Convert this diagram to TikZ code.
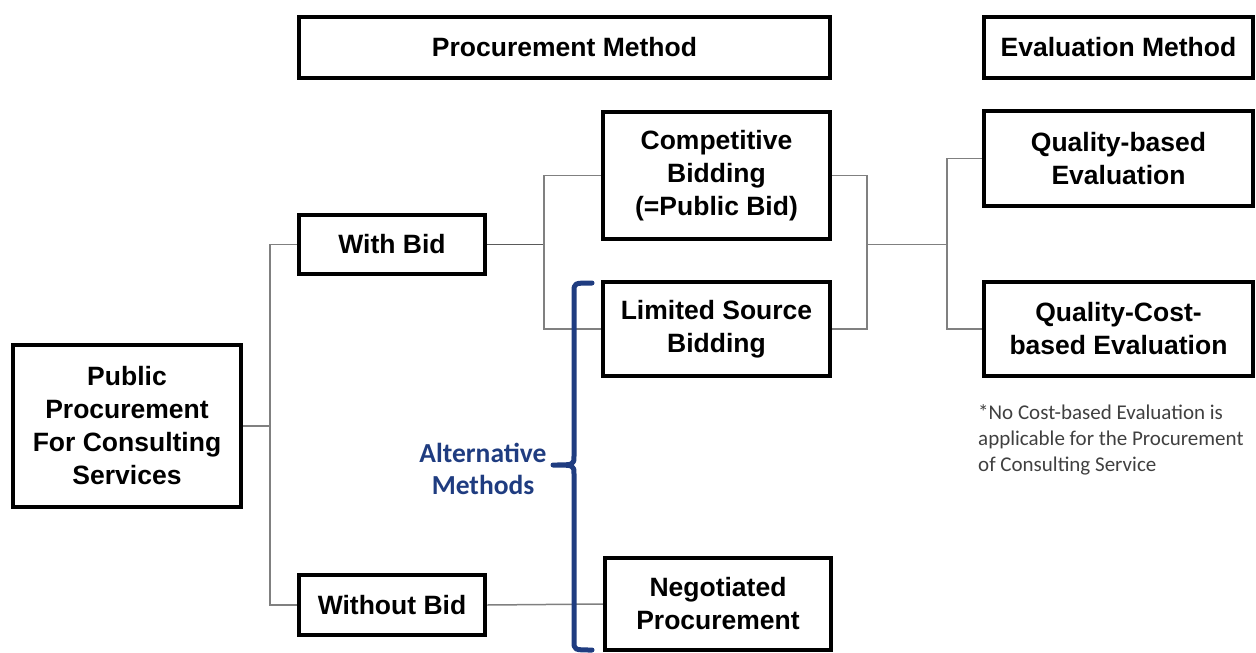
\documentclass[tikz,border=0pt]{standalone}
\usepackage{fontspec}
\setmainfont{Liberation Sans}
\newfontfamily\calfont{Carlito}
\definecolor{braceblue}{HTML}{1F3C80}
\definecolor{conngray}{HTML}{808080}
\definecolor{notegray}{HTML}{404040}
\begin{document}
\begin{tikzpicture}[x=1pt,y=-1pt,
  mybox/.style={draw=black,line width=4.5pt,fill=white,inner sep=0pt,align=center,
    font=\fontsize{26.5}{33}\selectfont\bfseries},
  conn/.style={draw=conngray,line width=1.5pt},
  bracestyle/.style={draw=braceblue,line width=5pt,line cap=round,line join=round}]
\useasboundingbox (0,0) rectangle (1256,653);
% boxes
\node[mybox,minimum width=531pt,minimum height=61pt] (hdrP) at (564.5,47.5) {Procurement Method};
\node[mybox,minimum width=269pt,minimum height=61pt] (hdrE) at (1118.5,47.5) {Evaluation Method};
\node[mybox,minimum width=228pt,minimum height=162pt] (pub) at (127,426) {Public\\Procurement\\For Consulting\\Services};
\node[mybox,minimum width=186pt,minimum height=59pt] (with) at (392,244.5) {With Bid};
\node[mybox,minimum width=186pt,minimum height=60pt] (without) at (392,605) {Without Bid};
\node[mybox,minimum width=227pt,minimum height=127pt] (comp) at (716.5,175.5) {Competitive\\Bidding\\(=Public Bid)};
\node[mybox,minimum width=227pt,minimum height=94pt] (lim) at (716.5,329) {Limited Source\\Bidding};
\node[mybox,minimum width=226pt,minimum height=92pt] (neg) at (718,604) {Negotiated\\Procurement};
\node[mybox,minimum width=269pt,minimum height=95pt] (qb) at (1118.5,158.5) {Quality-based\\Evaluation};
\node[mybox,minimum width=269pt,minimum height=94pt] (qc) at (1118.5,329) {Quality-Cost-\\based Evaluation};
% junction coordinates
\coordinate (j1) at (270,0);
\coordinate (j2) at (544,0);
\coordinate (j3) at (867,0);
\coordinate (j4) at (947,0);
% connectors
\draw[conn] (pub.east) -- (pub.east -| j1);
\draw[conn] (with.west) -| (j1 |- without.west) -- (without.west);
\draw[conn,draw=conngray!70!black] (with.east) -- (with.east -| j2);
\draw[conn] (comp.west) -| (j2 |- lim.west) -- (lim.west);
\draw[conn] (without.east) -- (neg.west);
\draw[conn] (comp.east) -| (j3 |- lim.east) -- (lim.east);
\draw[conn] (with.east -| j3) -- (with.east -| j4);
\draw[conn] (qb.west) -| (j4 |- qc.west) -- (qc.west);
% brace
\draw[bracestyle] (592,283) .. controls (574,283) .. (574,292) -- (574,456)
  .. controls (574,465) .. (553,465) .. controls (574,465) .. (574,474)
  -- (574,641) .. controls (574,650) .. (592,650);
\node[inner sep=0pt,align=center,text=braceblue,font=\calfont\bfseries\fontsize{27.5}{32}\selectfont] (alt) at (483,469) {Alternative\\Methods};
% footnote
\node[anchor=north west,inner sep=0pt,align=left,text=notegray,font=\calfont\fontsize{21}{26}\selectfont] (note) at (978,404) {*No Cost-based Evaluation is\\applicable for the Procurement\\of Consulting Service};
\end{tikzpicture}
\end{document}
